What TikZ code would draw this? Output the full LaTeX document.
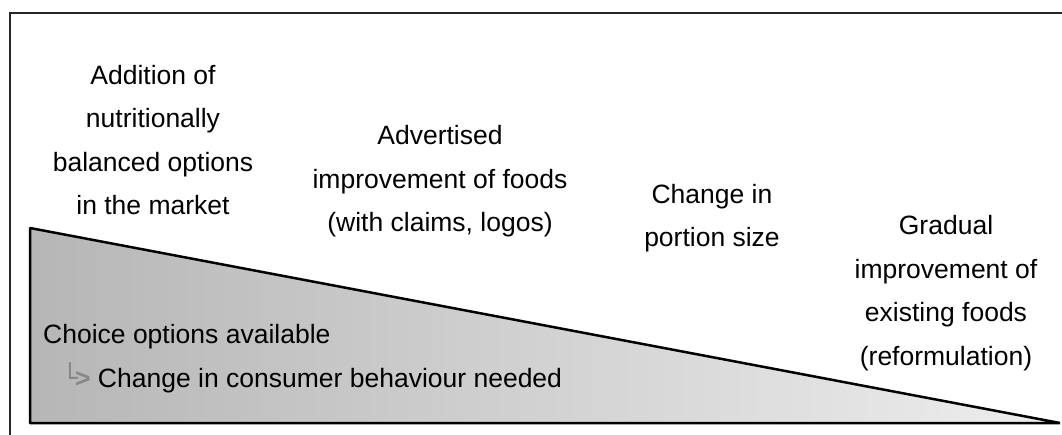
\documentclass[tikz,border=0pt]{standalone}
\usepackage{fontspec}
\setmainfont{Liberation Sans}
\newfontfamily\symfont{DejaVu Sans}
\definecolor{shadeL}{HTML}{B6B6B6}
\definecolor{shadeR}{HTML}{EEEEEE}
\definecolor{hookgray}{HTML}{888888}
\tikzset{
  lbl/.style={inner sep=0pt, align=center, anchor=base,
    font=\fontsize{26.5}{43.5}\selectfont},
  frameline/.style={line width=2pt, draw=black!85},
  wedge/.style={line width=2.5pt, draw=black, line join=bevel},
}
\begin{document}
\begin{tikzpicture}[x=1pt,y=-1pt]
\useasboundingbox (0,0) rectangle (1062,435);
% frame
\coordinate (fTR) at (1062,13);
\coordinate (fTL) at (9.5,13);
\coordinate (fBL) at (9.5,435);
\draw[frameline] (fTR) -- (fTL) -- (fBL);
% wedge
\coordinate (wT) at (30,228);
\coordinate (wB) at (30,423);
\coordinate (wR) at (1060,423);
\shade[left color=shadeL, right color=shadeR] (wT) -- (wR) -- (wB) -- cycle;
\draw[wedge] (wT) -- (wR) -- (wB) -- cycle;
% labels (anchor = baseline of last line)
\node[lbl] (c1) at (153,215) {Addition of\\nutritionally\\balanced options\\in the market};
\node[lbl] (c2) at (440,232) {Advertised\\improvement of foods\\(with claims, logos)};
\node[lbl] (c3) at (712,247) {Change in\\portion size};
\node[lbl] (c4) at (946,365) {Gradual\\improvement of\\existing foods\\(reformulation)};
\node[lbl, align=left, anchor=base west] (ch) at (43,343) {Choice options available};
\node[lbl, align=left, anchor=base west] (cb) at (62,387) {{\color{hookgray}{\symfont └}\kern-3pt\textbf{>}} Change in consumer behaviour needed};
\end{tikzpicture}
\end{document}
